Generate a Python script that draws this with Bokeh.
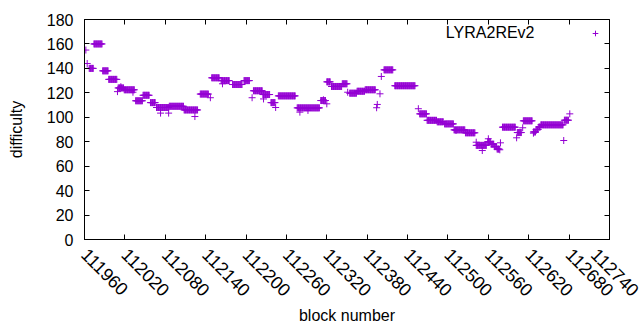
import numpy as np
from bokeh.plotting import figure
from bokeh.models import (Range1d, FixedTicker, LinearAxis, CustomJSTickFormatter,
                          Legend, LegendItem, Label, ColumnDataSource, BasicTickFormatter)
from bokeh.embed import file_html
from bokeh.resources import INLINE
import math

# ---- data ----
# runs of consecutive blocks with the same difficulty
run_start = [111967, 111974, 111987, 111996, 112010, 112019, 112036, 112047, 112058, 112067,
             112086, 112108, 112132, 112149, 112163, 112180, 112197, 112211, 112225, 112237,
             112248, 112276, 112311, 112320, 112327, 112343, 112354, 112365, 112377, 112405,
             112421, 112458, 112469, 112484, 112495, 112509, 112526, 112542, 112559, 112564,
             112569, 112573, 112581, 112603, 112612, 112627, 112631, 112635, 112638, 112673]
run_end = [111973, 111986, 111995, 112008, 112018, 112034, 112046, 112056, 112065, 112085,
           112107, 112128, 112144, 112160, 112175, 112194, 112205, 112224, 112235, 112243,
           112273, 112309, 112318, 112325, 112342, 112350, 112364, 112376, 112392, 112418,
           112451, 112468, 112483, 112493, 112508, 112525, 112540, 112557, 112563, 112568,
           112572, 112576, 112600, 112609, 112625, 112630, 112634, 112637, 112671, 112679]
run_value = [140, 160, 138, 131, 124, 122.5, 113.5, 118, 112, 108,
             109, 106, 119, 132.3, 130, 126.8, 130, 121.7, 118.6, 112,
             117.5, 107.7, 113.7, 129, 125.2, 127.4, 119.7, 121.3, 122.5, 138.8,
             125.8, 102.8, 97.5, 96.3, 94.6, 89.7, 87.3, 77, 80, 78,
             76, 74, 91.9, 87.5, 97.1, 88, 90, 92, 93.8, 97.6]

# isolated blocks
single_block = [111962, 111964, 112009, 112014, 112032, 112073, 112085, 112124, 112147, 112165,
                112209, 112226, 112244, 112280, 112292, 112315, 112320, 112351, 112394, 112395,
                112399, 112401, 112456, 112512, 112542, 112551, 112560, 112577, 112578, 112602,
                112611, 112627, 112672, 112681]
single_value = [155, 144, 121, 125, 120.5, 103.4, 103.4, 100.6, 116, 127.4,
                116, 115, 108, 104.2, 105.6, 114.3, 111, 120.5, 107.8, 110.5,
                119.2, 133.4, 107, 89.2, 79.6, 72.8, 82.4, 73.4, 79.1, 83.2,
                91.4, 87, 81, 102.8]

x_ticks = list(range(111960, 112741, 60))
y_ticks = list(range(0, 181, 20))
series_name = "LYRA2REv2"

# ---- expand runs to per-block points ----
blocks = np.concatenate([np.arange(s, e + 1) for s, e in zip(run_start, run_end)]
                        + [np.array(single_block)])
vals = np.concatenate([np.full(e - s + 1, v, dtype=float) for s, e, v in zip(run_start, run_end, run_value)]
                      + [np.array(single_value, dtype=float)])
src = ColumnDataSource(dict(block=blocks, difficulty=vals))

FONT = "Liberation Sans"
FS = "16px"
COLOR = "#9400d3"

p = figure(width=640, height=328, output_backend="svg", toolbar_location=None,
           x_range=Range1d(111960, 112740), y_range=Range1d(0, 180),
           min_border_left=84, min_border_right=31, min_border_top=19, min_border_bottom=89)
p.background_fill_color = "white"
p.border_fill_color = "white"
p.outline_line_color = "black"
p.outline_line_width = 1
p.xgrid.visible = False
p.ygrid.visible = False

r = p.scatter("block", "difficulty", source=src, marker="cross", size=7,
              line_color=COLOR, line_width=1)

for ax in (p.xaxis[0], p.yaxis[0]):
    ax.major_tick_in = 5
    ax.major_tick_out = 0
    ax.minor_tick_line_color = None
    ax.axis_line_color = "black"
    ax.major_label_text_font = FONT
    ax.major_label_text_font_size = FS
    ax.major_label_text_color = "black"
    ax.axis_label_text_font = FONT
    ax.axis_label_text_font_size = FS
    ax.axis_label_text_font_style = "normal"
    ax.axis_label_text_color = "black"

p.xaxis.ticker = FixedTicker(ticks=x_ticks)
p.xaxis.formatter = BasicTickFormatter(use_scientific=False)
p.xaxis.major_label_orientation = -math.pi / 4
p.xaxis.major_label_text_font_size = "18px"
p.xaxis.major_label_standoff = 12
p.xaxis.axis_label = "block number"
p.xaxis.axis_label_standoff = 2

p.yaxis.ticker = FixedTicker(ticks=y_ticks)
p.yaxis.major_label_standoff = 11
p.yaxis.axis_label = "difficulty"
p.yaxis.axis_label_standoff = 19

# mirrored ticks on top and right
blank = CustomJSTickFormatter(code="return ''")
top = LinearAxis(ticker=FixedTicker(ticks=x_ticks), formatter=blank,
                 major_tick_in=5, major_tick_out=0, minor_tick_line_color=None,
                 axis_line_color=None, major_label_standoff=0)
right = LinearAxis(ticker=FixedTicker(ticks=y_ticks), formatter=blank,
                   major_tick_in=5, major_tick_out=0, minor_tick_line_color=None,
                   axis_line_color=None, major_label_standoff=0)
p.add_layout(top, "above")
p.add_layout(right, "right")

# key: text followed by the point sample (gnuplot style)
legend = Legend(items=[LegendItem(label="", renderers=[r])], location=(504, 199),
                padding=0, margin=0, spacing=0, glyph_width=14, glyph_height=14,
                label_standoff=0, label_width=0, border_line_color=None,
                background_fill_alpha=0)
p.add_layout(legend)
p.add_layout(Label(x=450, y=207, x_units="screen", y_units="screen", text=series_name,
                   text_align="right", text_baseline="middle", text_font=FONT,
                   text_font_size=FS, text_color="black"))

open("out.html", "w").write(file_html(p, INLINE))
